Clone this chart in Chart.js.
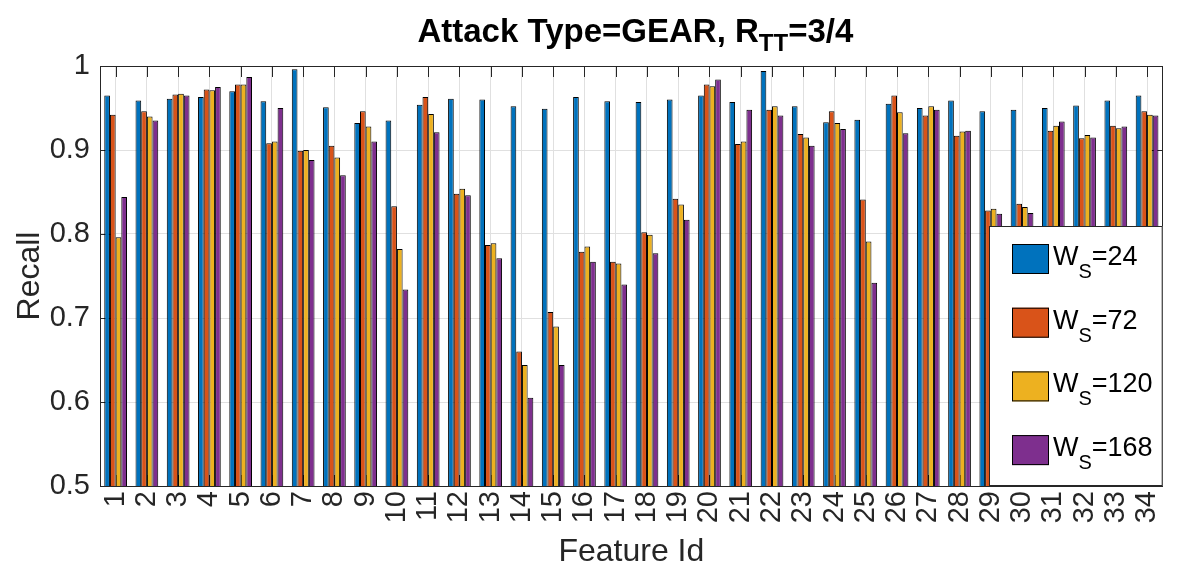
<!DOCTYPE html>
<html>
<head>
<meta charset="utf-8">
<title>Recall per feature</title>
<script src="https://cdn.jsdelivr.net/npm/chart.js@4.4.1/dist/chart.umd.min.js"></script>
<style>
  html, body { margin: 0; padding: 0; background: #fff; }
</style>
</head>
<body>
<canvas id="recallChart" width="1187" height="568"></canvas>
<script>
// Feature ids on the x axis
const featureIds = ["1","2","3","4","5","6","7","8","9","10","11","12","13","14","15","16","17",
                    "18","19","20","21","22","23","24","25","26","27","28","29","30","31","32","33","34"];

// Recall for each window size W_S
const recallWs24  = [0.965,0.959,0.961,0.963,0.970,0.958,0.996,0.951,0.932,0.935,0.954,0.961,0.960,0.952,0.949,0.963,0.958,
                     0.957,0.960,0.965,0.957,0.994,0.952,0.933,0.936,0.955,0.950,0.959,0.946,0.948,0.950,0.953,0.959,0.965];
const recallWs72  = [0.942,0.946,0.966,0.972,0.978,0.908,0.899,0.905,0.946,0.833,0.963,0.848,0.787,0.660,0.707,0.779,0.767,
                     0.802,0.842,0.978,0.907,0.948,0.919,0.946,0.841,0.965,0.941,0.917,0.828,0.836,0.923,0.914,0.929,0.946];
const recallWs120 = [0.796,0.940,0.967,0.971,0.978,0.910,0.900,0.891,0.928,0.782,0.943,0.854,0.789,0.644,0.690,0.785,0.765,
                     0.799,0.835,0.976,0.910,0.952,0.915,0.932,0.791,0.945,0.952,0.922,0.830,0.832,0.929,0.918,0.926,0.942];
const recallWs168 = [0.844,0.935,0.965,0.975,0.987,0.950,0.888,0.870,0.910,0.734,0.921,0.846,0.771,0.605,0.644,0.767,0.740,
                     0.777,0.817,0.984,0.948,0.941,0.905,0.925,0.742,0.920,0.948,0.923,0.824,0.825,0.934,0.915,0.928,0.941];

// Legend entries: [main text, subscript, rest]
const seriesNames = [["W", "S", "=24"], ["W", "S", "=72"], ["W", "S", "=120"], ["W", "S", "=168"]];
const yTicks = [0.5, 0.6, 0.7, 0.8, 0.9, 1];

const colors = ["#0072BD", "#D95319", "#EDB120", "#7E2F8E"];
const FONT = "'Liberation Sans', Arial, Helvetica, sans-serif";
const INK = "#262626";

// draws "main" + lowered subscript + "rest" starting at x
function drawSubText(ctx, x, y, main, sub, rest, size, subSize, drop, weight) {
    ctx.font = weight + " " + size + "px " + FONT;
    ctx.fillText(main, x, y);
    x += ctx.measureText(main).width;
    ctx.font = weight + " " + subSize + "px " + FONT;
    ctx.fillText(sub, x, y + drop);
    x += ctx.measureText(sub).width;
    ctx.font = weight + " " + size + "px " + FONT;
    ctx.fillText(rest, x, y);
}

function subTextWidth(ctx, main, sub, rest, size, subSize, weight) {
    ctx.font = weight + " " + size + "px " + FONT;
    let w = ctx.measureText(main).width + ctx.measureText(rest).width;
    ctx.font = weight + " " + subSize + "px " + FONT;
    return w + ctx.measureText(sub).width;
}

const axesDecor = {
    id: "axesDecor",
    beforeDatasetsDraw(chart) {
        // inner tick marks on all four sides
        const { ctx, chartArea: a, scales } = chart;
        const len = 11;
        ctx.save();
        ctx.strokeStyle = INK;
        ctx.lineWidth = 1;
        ctx.beginPath();
        featureIds.forEach((_, i) => {
            const x = Math.round(scales.x.getPixelForTick(i)) + 0.5;
            ctx.moveTo(x, a.top); ctx.lineTo(x, a.top + len);
            ctx.moveTo(x, a.bottom); ctx.lineTo(x, a.bottom - len);
        });
        yTicks.forEach(v => {
            const y = Math.round(scales.y.getPixelForValue(v)) + 0.5;
            ctx.moveTo(a.left, y); ctx.lineTo(a.left + len, y);
            ctx.moveTo(a.right, y); ctx.lineTo(a.right - len, y);
        });
        ctx.stroke();
        ctx.restore();
    },
    afterDraw(chart) {
        const { ctx, chartArea: a } = chart;
        ctx.save();

        // box around the plot
        ctx.strokeStyle = INK;
        ctx.lineWidth = 1;
        ctx.strokeRect(Math.round(a.left) + 0.5, Math.round(a.top) + 0.5,
                       Math.round(a.right - a.left) - 1, Math.round(a.bottom - a.top));

        // title with subscript
        ctx.fillStyle = "#000";
        ctx.textBaseline = "alphabetic";
        ctx.textAlign = "left";
        const tw = subTextWidth(ctx, "Attack Type=GEAR, R", "TT", "=3/4", 33, 24, "bold");
        drawSubText(ctx, (a.left + a.right) / 2 - tw / 2 + 4, 42, "Attack Type=GEAR, R", "TT", "=3/4", 33, 24, 9, "bold");

        // axis titles
        ctx.fillStyle = INK;
        ctx.font = "32px " + FONT;
        ctx.textAlign = "center";
        ctx.fillText("Feature Id", (a.left + a.right) / 2, 561);
        ctx.save();
        ctx.translate(39, (a.top + a.bottom) / 2);
        ctx.rotate(-Math.PI / 2);
        ctx.fillText("Recall", 0, 0);
        ctx.restore();

        // legend box in the lower right corner
        const lx = 989, ly = 226, lw = a.right - lx, lh = a.bottom - ly;
        ctx.fillStyle = "#fff";
        ctx.fillRect(lx, ly, lw, lh);
        ctx.strokeStyle = INK;
        ctx.strokeRect(lx + 0.5, ly + 0.5, lw - 1, lh - 1);
        ctx.textAlign = "left";
        seriesNames.forEach((name, i) => {
            const cy = 259 + i * 63.7;
            ctx.fillStyle = colors[i];
            ctx.fillRect(1012, cy - 15, 37, 30);
            ctx.strokeStyle = "#000";
            ctx.strokeRect(1012.5, cy - 14.5, 36, 29);
            ctx.fillStyle = "#000";
            drawSubText(ctx, 1053, cy + 6, name[0], name[1], name[2], 27, 20, 13, "normal");
        });
        ctx.restore();
    }
};

const datasets = [recallWs24, recallWs72, recallWs120, recallWs168].map((values, i) => ({
    label: seriesNames[i].join(""),
    data: values,
    backgroundColor: colors[i],
    borderColor: "#000",
    borderWidth: 1,
    borderSkipped: "bottom",
    categoryPercentage: 0.727,
    barPercentage: 1.0
}));

new Chart(document.getElementById("recallChart").getContext("2d"), {
    type: "bar",
    data: { labels: featureIds, datasets: datasets },
    options: {
        responsive: false,
        animation: false,
        devicePixelRatio: 1,
        layout: { padding: { top: 66, right: 9, bottom: 0, left: 0 } },
        plugins: {
            legend: { display: false },
            title: { display: false },
            tooltip: { enabled: false }
        },
        scales: {
            x: {
                grid: { color: "#e0e0e0", offset: false, drawTicks: false },
                border: { display: false },
                ticks: {
                    autoSkip: false,
                    minRotation: 90,
                    maxRotation: 90,
                    padding: 5,
                    color: INK,
                    font: { family: FONT, size: 29 }
                },
                afterFit(scale) { scale.height = 82; }
            },
            y: {
                min: 0.5,
                max: 1,
                grid: { color: "#e0e0e0", drawTicks: false },
                border: { display: false },
                ticks: {
                    stepSize: 0.1,
                    padding: 10,
                    color: INK,
                    font: { family: FONT, size: 29 },
                    callback: v => String(Math.round(v * 10) / 10)
                },
                afterFit(scale) { scale.width = 100; }
            }
        }
    },
    plugins: [axesDecor]
});
</script>
</body>
</html>
